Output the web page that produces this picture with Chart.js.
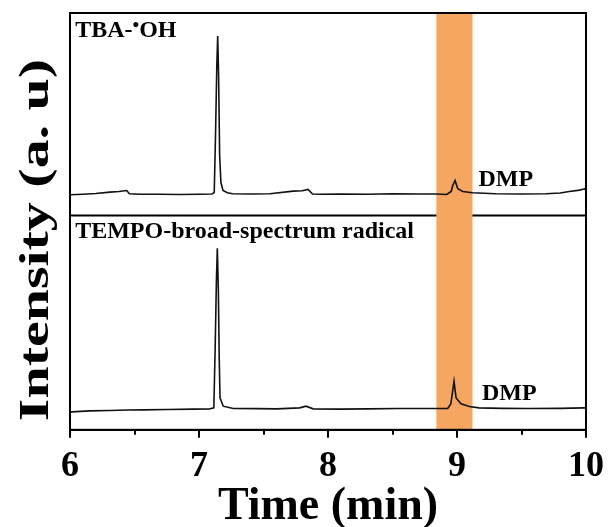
<!DOCTYPE html>
<html>
<head>
<meta charset="utf-8">
<script src="https://cdn.jsdelivr.net/npm/chart.js@4.4.1/dist/chart.umd.min.js"></script>
<style>
  html, body { margin: 0; padding: 0; background: #fff; }
  #wrap { width: 611px; height: 527px; }
</style>
</head>
<body>
<div id="wrap"><canvas id="gc"></canvas></div>
<script>
// retention time (min) and detector response, TBA quenched run (upper trace)
const tbaTime = [6.00, 6.10, 6.20, 6.31, 6.38, 6.44, 6.46, 6.55, 6.70, 6.85, 7.00, 7.10,
  7.118, 7.128, 7.138, 7.145, 7.152, 7.160, 7.170, 7.186, 7.22, 7.26, 7.40, 7.55, 7.73,
  7.80, 7.845, 7.88, 7.95, 8.10, 8.30, 8.50, 8.70, 8.84, 8.92, 8.955, 8.967, 8.985, 8.995,
  9.006, 9.045, 9.12, 9.30, 9.50, 9.69, 9.80, 9.87, 9.95, 9.99, 10.00];
const tbaSignal = [20.7, 21.3, 22.0, 23.4, 24.0, 25.0, 21.7, 21.2, 21.3, 21.0, 21.2, 21.4,
  23, 80, 150, 180, 140, 60, 33, 25, 22.8, 21.7, 21.5, 21.7, 24.4,
  24.8, 26, 21.5, 21.2, 21.5, 21.3, 21.7, 21.5, 21.5, 21.0, 24, 30, 35, 31,
  26.7, 24, 22.7, 21.7, 21.5, 21.7, 22.5, 24, 25.4, 26.7, 25];

// TEMPO quenched run (lower trace)
const tempoTime = [6.00, 6.015, 6.15, 6.31, 6.45, 6.57, 6.75, 6.96, 7.08, 7.115, 7.125,
  7.135, 7.142, 7.150, 7.157, 7.163, 7.188, 7.265, 7.45, 7.60, 7.78, 7.83, 7.885, 8.09,
  8.30, 8.55, 8.75, 8.928, 8.952, 8.959, 8.977, 8.985, 8.993, 9.031, 9.096, 9.17, 9.35,
  9.56, 9.80, 9.985, 10.00];
const tempoSignal = [18.0, 18.0, 19.0, 19.3, 19.8, 20.0, 20.3, 20.7, 20.8, 22, 80,
  150, 182, 140, 70, 32, 23.7, 21.3, 21.2, 21.0, 22.0, 23.7, 21.0, 20.7,
  21.0, 21.3, 21.3, 21.3, 26, 32, 48.7, 40, 32, 26, 23.3, 22.0, 21.5,
  21.3, 21.5, 22.0, 22.0];

const xMin = 6, xMax = 10;
const majorStep = 1;
const minorTicks = [6.5, 7.5, 8.5, 9.5];
const dmpWindow = [8.84, 9.12];       // highlighted DMP elution window
const panelMax = [203, 215];          // upper / lower panel response range
const yTitle = 'Intensity (a. u)';

const serif = "'Liberation Serif', 'Times New Roman', serif";
Chart.defaults.font.family = serif;
Chart.defaults.color = '#000';

const toPoints = (t, v) => t.map((x, i) => ({ x, y: v[i] }));

const decor = {
  id: 'decor',
  beforeDatasetsDraw(chart) {
    const { ctx, chartArea: a, scales } = chart;
    const x = scales.x;
    ctx.save();
    // divider between the two runs
    ctx.strokeStyle = '#000';
    ctx.lineWidth = 2;
    ctx.beginPath();
    ctx.moveTo(a.left, scales.y1.bottom);
    ctx.lineTo(a.right, scales.y1.bottom);
    ctx.stroke();
    // DMP window
    const x0 = x.getPixelForValue(dmpWindow[0]);
    const x1 = x.getPixelForValue(dmpWindow[1]);
    ctx.fillStyle = '#F5A661';
    ctx.fillRect(x0, a.top, x1 - x0, a.bottom - a.top);
    ctx.restore();
  },
  afterDatasetsDraw(chart) {
    const { ctx, chartArea: a, scales } = chart;
    const x = scales.x, y1 = scales.y1, y2 = scales.y2;
    ctx.save();
    ctx.strokeStyle = '#000';
    ctx.lineWidth = 2;
    ctx.strokeRect(a.left, a.top, a.right - a.left, a.bottom - a.top);

    // minor ticks
    ctx.beginPath();
    minorTicks.forEach(v => {
      const px = Math.round(x.getPixelForValue(v));
      ctx.moveTo(px, a.bottom);
      ctx.lineTo(px, a.bottom + 5);
    });
    ctx.stroke();

    ctx.fillStyle = '#000';
    ctx.textBaseline = 'alphabetic';
    ctx.font = `bold 24px ${serif}`;
    // panel captions
    let tx = x.getPixelForValue(6.04);
    let ty = y1.getPixelForValue(178.5);
    ctx.fillText('TBA-', tx, ty);
    tx += ctx.measureText('TBA-').width;
    ctx.font = `bold 19px ${serif}`;
    ctx.fillText('\u2022', tx, ty - 6);
    tx += ctx.measureText('\u2022').width;
    ctx.font = `bold 24px ${serif}`;
    ctx.fillText('OH', tx, ty);

    ctx.fillText('TEMPO-broad-spectrum radical', x.getPixelForValue(6.04), y2.getPixelForValue(192));

    // peak labels
    ctx.fillText('DMP', x.getPixelForValue(9.166), y1.getPixelForValue(30));
    ctx.fillText('DMP', x.getPixelForValue(9.194), y2.getPixelForValue(30.3));
    ctx.restore();
  },
  afterDraw(chart) {
    // vertical axis title, drawn tall and narrow
    const { ctx } = chart;
    ctx.save();
    ctx.translate(37, 240);
    ctx.rotate(-Math.PI / 2);
    ctx.scale(1.38, 1);
    ctx.fillStyle = '#000';
    ctx.font = `bold 42px ${serif}`;
    ctx.textAlign = 'center';
    ctx.textBaseline = 'middle';
    ctx.fillText(yTitle, 0, 0);
    ctx.restore();
  }
};

const traceStyle = {
  borderColor: '#111',
  borderWidth: 1.6,
  pointRadius: 0,
  tension: 0,
  fill: false
};

const panelAxis = (max) => ({
  axis: 'y',
  type: 'linear',
  position: 'left',
  stack: 'panels',
  stackWeight: max,
  min: 0,
  max: max,
  ticks: { display: false },
  grid: { display: false, drawTicks: false },
  border: { display: false }
});

new Chart(document.getElementById('gc'), {
  type: 'line',
  data: {
    datasets: [
      { label: 'TBA', data: toPoints(tbaTime, tbaSignal), yAxisID: 'y1', ...traceStyle },
      { label: 'TEMPO', data: toPoints(tempoTime, tempoSignal), yAxisID: 'y2', ...traceStyle }
    ]
  },
  options: {
    responsive: true,
    maintainAspectRatio: false,
    animation: false,
    layout: { padding: { left: 70, right: 3, top: 13, bottom: 0 } },
    plugins: {
      legend: { display: false },
      tooltip: { enabled: false }
    },
    scales: {
      x: {
        type: 'linear',
        min: xMin,
        max: xMax,
        border: { display: true, color: '#000', width: 2 },
        grid: { drawOnChartArea: false, drawTicks: true, tickLength: 8, color: '#000', lineWidth: 2 },
        ticks: {
          stepSize: majorStep,
          autoSkip: false,
          maxRotation: 0,
          padding: 7,
          color: '#000',
          font: { family: serif, size: 36, weight: 'bold' }
        },
        title: {
          display: true,
          text: 'Time (min)',
          color: '#000',
          padding: { top: -11, bottom: -3 },
          font: { family: serif, size: 46, weight: 'bold', lineHeight: 1 }
        }
      },
      // lower panel first: later stacked axes are laid out on top
      y2: panelAxis(panelMax[1]),
      y1: panelAxis(panelMax[0])
    }
  },
  plugins: [decor]
});
</script>
</body>
</html>
